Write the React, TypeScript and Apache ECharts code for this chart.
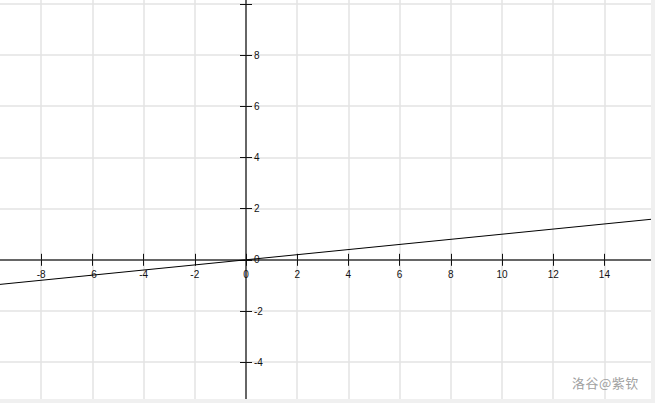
import React, { useEffect, useRef } from "react";
import * as echarts from "echarts";

const lineX = [-10, 16];
const lineY = [-1, 1.6];
const xRange = [-10, 16];
const yRange = [-6, 12];
const tickStep = 2;
const hiddenYLabels = [10, 12, -6];
const hiddenXLabels = [-10, 16];
const watermark = "洛谷@紫钦";

export default function App() {
  const ref = useRef<HTMLDivElement>(null);
  useEffect(() => {
    if (!ref.current) return;
    const chart = echarts.init(ref.current, null, { renderer: "svg" });
    const labelStyle = {
      color: "#111",
      fontSize: 10,
      fontFamily: "Liberation Sans, Arial, sans-serif",
    };
    const axisLineStyle = { color: "#666", width: 2 };
    const tickStyle = { color: "#111", width: 1 };
    // grid geometry inside the (larger, clipped) chart div
    const gLeft = 10;
    const gTop = 12.6;
    const gW = 665.6;
    const gH = 460.8;
    const unitX = gW / (xRange[1] - xRange[0]);
    const unitY = gH / (yRange[1] - yRange[0]);
    const zeroX = gLeft + (0 - xRange[0]) * unitX;
    const zeroY = gTop + (yRange[1] - 0) * unitY;
    chart.setOption({
      animation: false,
      backgroundColor: "transparent",
      grid: { left: gLeft, top: gTop, width: gW, height: gH, containLabel: false },
      xAxis: [
        {
          type: "value",
          position: "bottom",
          offset: -(gTop + gH - zeroY),
          min: xRange[0],
          max: xRange[1],
          interval: tickStep,
          axisLine: { show: true, onZero: false, lineStyle: axisLineStyle },
          axisTick: { show: true, length: 6, lineStyle: tickStyle },
          axisLabel: {
            ...labelStyle,
            margin: 10,
            formatter: (v: number) => (hiddenXLabels.includes(v) ? "" : String(v)),
          },
          splitLine: { show: true, lineStyle: { color: "#e3e3e3", width: 1.5 } },
        },
        {
          type: "value",
          position: "top",
          offset: -(zeroY - gTop),
          min: xRange[0],
          max: xRange[1],
          interval: tickStep,
          axisLine: { show: true, onZero: false, lineStyle: axisLineStyle },
          axisTick: { show: true, length: 6, lineStyle: tickStyle },
          axisLabel: { show: false },
          splitLine: { show: false },
        },
      ],
      yAxis: [
        {
          type: "value",
          position: "right",
          offset: -(gLeft + gW - zeroX),
          min: yRange[0],
          max: yRange[1],
          interval: tickStep,
          axisLine: { show: true, onZero: false, lineStyle: axisLineStyle },
          axisTick: { show: true, length: 6, lineStyle: tickStyle },
          axisLabel: {
            ...labelStyle,
            margin: 8,
            formatter: (v: number) => (hiddenYLabels.includes(v) ? "" : String(v)),
          },
          splitLine: { show: true, lineStyle: { color: "#e3e3e3", width: 1.5 } },
        },
        {
          type: "value",
          position: "left",
          offset: -(zeroX - gLeft),
          min: yRange[0],
          max: yRange[1],
          interval: tickStep,
          axisLine: { show: true, onZero: false, lineStyle: axisLineStyle },
          axisTick: { show: true, length: 6, lineStyle: tickStyle },
          axisLabel: { show: false },
          splitLine: { show: false },
        },
      ],
      series: [
        {
          type: "line",
          xAxisIndex: 0,
          yAxisIndex: 0,
          data: lineX.map((x, i) => [x, lineY[i]]),
          symbol: "none",
          lineStyle: { color: "#000", width: 1 },
          silent: true,
        },
      ],
    });
    return () => chart.dispose();
  }, []);

  return (
    <div
      style={{
        position: "fixed",
        left: 0,
        top: 0,
        width: 655,
        height: 403,
        background: "#f0f0f0",
      }}
    >
      <div
        style={{
          position: "absolute",
          left: 0,
          top: 0,
          width: 651,
          height: 399,
          overflow: "hidden",
          background: "#fff",
        }}
      >
        <div
          ref={ref}
          style={{ position: "absolute", left: -20, top: -60, width: 700, height: 500 }}
        />
      </div>
      <div
        style={{
          position: "absolute",
          left: 572,
          top: 373,
          fontSize: 13,
          color: "#a0a0a0",
          fontFamily: "Noto Sans CJK SC, sans-serif",
          letterSpacing: 0.5,
          whiteSpace: "nowrap",
        }}
      >
        {watermark}
      </div>
    </div>
  );
}
